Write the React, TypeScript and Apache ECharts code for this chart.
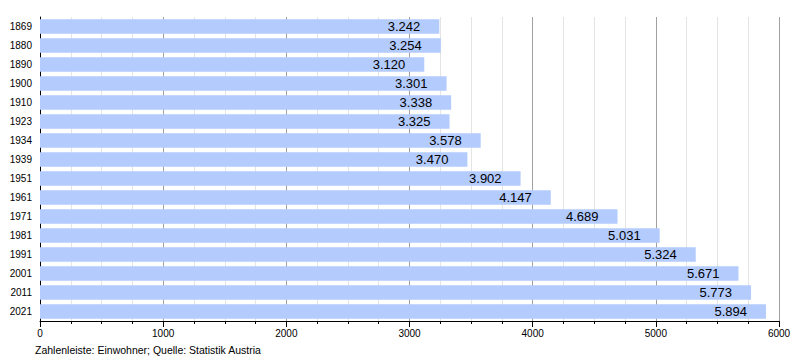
import React, { useEffect, useRef } from "react";
import * as echarts from "echarts";

const years = ["1869", "1880", "1890", "1900", "1910", "1923", "1934", "1939", "1951", "1961", "1971", "1981", "1991", "2001", "2011", "2021"];
const population = [3242, 3254, 3120, 3301, 3338, 3325, 3578, 3470, 3902, 4147, 4689, 5031, 5324, 5671, 5773, 5894];
const footnote = "Zahlenleiste: Einwohner; Quelle: Statistik Austria";

const fmt = (v: number) => {
  const s = String(Math.round(v));
  return s.replace(/\B(?=(\d{3})+(?!\d))/g, ".");
};

export default function App() {
  const ref = useRef<HTMLDivElement>(null);
  useEffect(() => {
    if (!ref.current) return;
    const chart = echarts.init(ref.current, null, { renderer: "svg" });
    const font = "Liberation Sans, Arial, sans-serif";
    chart.setOption({
      animation: false,
      textStyle: { fontFamily: font },
      grid: { left: 40, right: 21, top: 17, bottom: 39, containLabel: false },
      xAxis: {
        type: "value",
        min: 0,
        max: 6000,
        interval: 1000,
        axisLine: { show: true, lineStyle: { color: "#000", width: 1 } },
        axisTick: { show: true, length: 6, lineStyle: { color: "#000" } },
        minorTick: { show: true, splitNumber: 4, length: 3, lineStyle: { color: "#000" } },
        splitLine: { show: true, lineStyle: { color: "#a0a0a0", width: 1 } },
        minorSplitLine: { show: true, lineStyle: { color: "#e4e4e4", width: 1 } },
        axisLabel: { color: "#000", fontSize: 10, margin: 7, fontFamily: font, formatter: (v: number) => String(v) },
      },
      yAxis: {
        type: "category",
        data: years,
        inverse: true,
        axisLine: { show: true, lineStyle: { color: "#000", width: 1 } },
        axisTick: { show: false },
        splitLine: { show: false },
        axisLabel: { color: "#000", fontSize: 10, margin: 8, fontFamily: font },
      },
      series: [
        {
          type: "bar",
          data: population,
          barCategoryGap: "23%",
          itemStyle: { color: "#b3cbfd" },
          label: {
            show: true,
            position: "insideRight",
            distance: 19,
            color: "#000",
            fontSize: 13,
            fontFamily: font,
            formatter: (p: any) => fmt(p.value),
          },
        },
      ],
      graphic: [
        {
          type: "text",
          left: 35,
          top: 344,
          style: { text: footnote, fill: "#000", fontSize: 10.5, fontFamily: font },
        },
      ],
    });
    return () => chart.dispose();
  }, []);
  return <div ref={ref} style={{ width: 800, height: 360, position: "absolute", left: 0, top: 0 }} />;
}
